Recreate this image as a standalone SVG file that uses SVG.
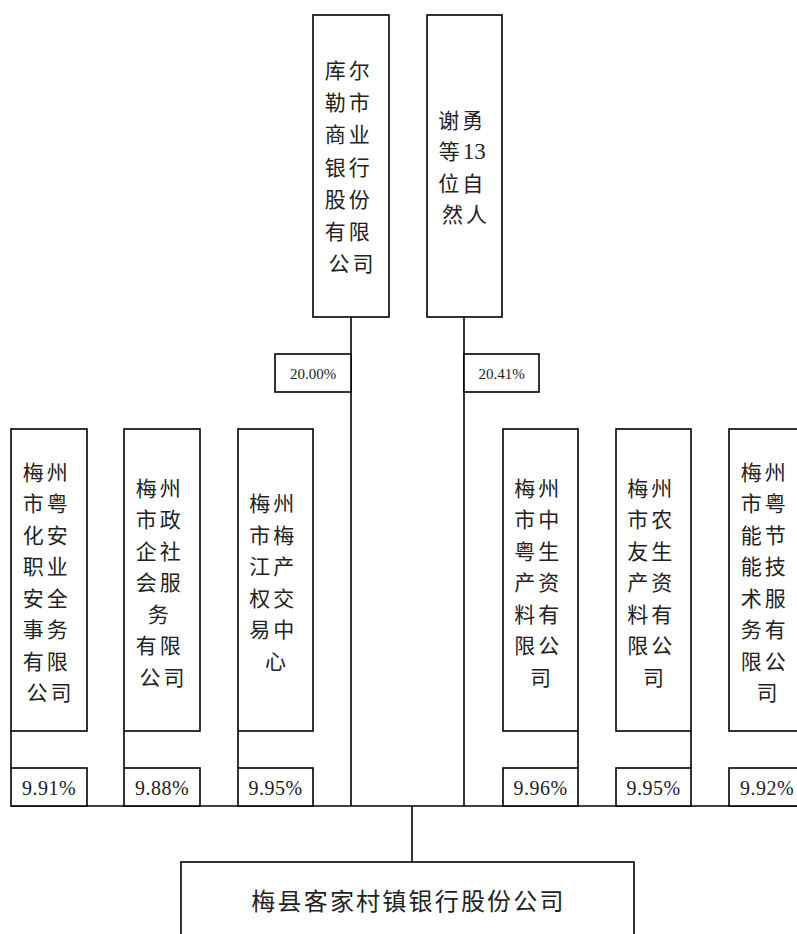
<svg xmlns="http://www.w3.org/2000/svg" width="797" height="934" viewBox="0 0 797 934">
  <style>
    .box { fill: #ffffff; stroke: #000000; stroke-width: 1.6; }
    .ln { fill: none; stroke: #000000; stroke-width: 1.6; }
    .cjk { font-family: "Noto Sans CJK SC", "Noto Sans", sans-serif; font-size: 21px; letter-spacing: 3px; fill: #222222; text-anchor: middle; }
    .pct { font-family: "Liberation Serif", serif; font-size: 20px; fill: #222222; text-anchor: middle; letter-spacing: 0.5px; }
    .pct-s { font-family: "Liberation Serif", serif; font-size: 15px; fill: #222222; text-anchor: middle; }
    .num { font-family: "Liberation Serif", serif; font-size: 23px; letter-spacing: 0; }
  </style>

  <rect width="797" height="934" fill="#ffffff"/>

  <!-- connectors -->
  <g id="connectors">
    <line class="ln" x1="351" y1="317" x2="351" y2="806"/>
    <line class="ln" x1="464" y1="317" x2="464" y2="806"/>
    <line class="ln" x1="11" y1="731" x2="11" y2="768"/>
    <line class="ln" x1="124" y1="731" x2="124" y2="768"/>
    <line class="ln" x1="238" y1="731" x2="238" y2="768"/>
    <line class="ln" x1="578" y1="731" x2="578" y2="768"/>
    <line class="ln" x1="691" y1="731" x2="691" y2="768"/>
    <line class="ln" x1="804" y1="731" x2="804" y2="768"/>
    <line class="ln" x1="11" y1="806" x2="797" y2="806"/>
    <line class="ln" x1="412" y1="806" x2="412" y2="862"/>
  </g>

  <!-- share labels -->
  <g id="labels">
    <rect class="box" x="275" y="354" width="76" height="38"/>
    <text class="pct-s" x="313" y="379">20.00%</text>
    <rect class="box" x="464" y="354" width="75" height="38"/>
    <text class="pct-s" x="501.5" y="379">20.41%</text>

    <rect class="box" x="11" y="768" width="76" height="38"/>
    <text class="pct" x="49" y="795">9.91%</text>
    <rect class="box" x="124" y="768" width="76" height="38"/>
    <text class="pct" x="162" y="795">9.88%</text>
    <rect class="box" x="238" y="768" width="75" height="38"/>
    <text class="pct" x="275.5" y="795">9.95%</text>
    <rect class="box" x="503" y="768" width="75" height="38"/>
    <text class="pct" x="540.5" y="795">9.96%</text>
    <rect class="box" x="616" y="768" width="75" height="38"/>
    <text class="pct" x="653.5" y="795">9.95%</text>
    <rect class="box" x="729" y="768" width="76" height="38"/>
    <text class="pct" x="767" y="795">9.92%</text>
  </g>

  <!-- shareholders, top -->
  <g id="kuerle-bank">
    <rect class="box" x="313" y="15" width="76" height="302"/>
    <text class="cjk">
      <tspan x="352.5" y="78">库尔</tspan>
      <tspan x="352.5" y="110">勒市</tspan>
      <tspan x="352.5" y="142">商业</tspan>
      <tspan x="352.5" y="174.5">银行</tspan>
      <tspan x="352.5" y="206.5">股份</tspan>
      <tspan x="352.5" y="238.5">有限</tspan>
      <tspan x="352.5" y="270.5">公司</tspan>
    </text>
  </g>

  <g id="xie-yong">
    <rect class="box" x="427" y="15" width="75" height="302"/>
    <text class="cjk">
      <tspan x="466" y="127.5">谢勇</tspan>
      <tspan x="466" y="159">等<tspan class="num">13</tspan></tspan>
      <tspan x="466" y="190.5">位自</tspan>
      <tspan x="466" y="222">然人</tspan>
    </text>
  </g>

  <!-- shareholders, bottom left -->
  <g id="yuehua">
    <rect class="box" x="11" y="429" width="76" height="302"/>
    <text class="cjk">
      <tspan x="50.5" y="479.75">梅州</tspan>
      <tspan x="50.5" y="511.25">市粤</tspan>
      <tspan x="50.5" y="542.75">化安</tspan>
      <tspan x="50.5" y="574.25">职业</tspan>
      <tspan x="50.5" y="605.75">安全</tspan>
      <tspan x="50.5" y="637.25">事务</tspan>
      <tspan x="50.5" y="668.75">有限</tspan>
      <tspan x="50.5" y="700.25">公司</tspan>
    </text>
  </g>

  <g id="zhengqi">
    <rect class="box" x="124" y="429" width="76" height="302"/>
    <text class="cjk">
      <tspan x="163.5" y="495.5">梅州</tspan>
      <tspan x="163.5" y="527">市政</tspan>
      <tspan x="163.5" y="558.5">企社</tspan>
      <tspan x="163.5" y="590">会服</tspan>
      <tspan x="163.5" y="621.5">务</tspan>
      <tspan x="163.5" y="653">有限</tspan>
      <tspan x="163.5" y="684.5">公司</tspan>
    </text>
  </g>

  <g id="meijiang">
    <rect class="box" x="238" y="429" width="75" height="302"/>
    <text class="cjk">
      <tspan x="277" y="511.25">梅州</tspan>
      <tspan x="277" y="542.75">市梅</tspan>
      <tspan x="277" y="574.25">江产</tspan>
      <tspan x="277" y="605.75">权交</tspan>
      <tspan x="277" y="637.25">易中</tspan>
      <tspan x="277" y="668.75">心</tspan>
    </text>
  </g>

  <!-- shareholders, bottom right -->
  <g id="zhongyue">
    <rect class="box" x="503" y="429" width="75" height="302"/>
    <text class="cjk">
      <tspan x="542" y="495.5">梅州</tspan>
      <tspan x="542" y="527">市中</tspan>
      <tspan x="542" y="558.5">粤生</tspan>
      <tspan x="542" y="590">产资</tspan>
      <tspan x="542" y="621.5">料有</tspan>
      <tspan x="542" y="653">限公</tspan>
      <tspan x="542" y="684.5">司</tspan>
    </text>
  </g>

  <g id="nongyou">
    <rect class="box" x="616" y="429" width="75" height="302"/>
    <text class="cjk">
      <tspan x="655" y="495.5">梅州</tspan>
      <tspan x="655" y="527">市农</tspan>
      <tspan x="655" y="558.5">友生</tspan>
      <tspan x="655" y="590">产资</tspan>
      <tspan x="655" y="621.5">料有</tspan>
      <tspan x="655" y="653">限公</tspan>
      <tspan x="655" y="684.5">司</tspan>
    </text>
  </g>

  <g id="yueneng">
    <rect class="box" x="729" y="429" width="76" height="302"/>
    <text class="cjk">
      <tspan x="768.5" y="479.75">梅州</tspan>
      <tspan x="768.5" y="511.25">市粤</tspan>
      <tspan x="768.5" y="542.75">能节</tspan>
      <tspan x="768.5" y="574.25">能技</tspan>
      <tspan x="768.5" y="605.75">术服</tspan>
      <tspan x="768.5" y="637.25">务有</tspan>
      <tspan x="768.5" y="668.75">限公</tspan>
      <tspan x="768.5" y="700.25">司</tspan>
    </text>
  </g>

  <!-- the bank -->
  <g id="hakka-bank">
    <rect class="box" x="181" y="862" width="453" height="90"/>
    <text class="cjk" x="408.5" y="910" style="font-size:24px; letter-spacing:2.2px">梅县客家村镇银行股份公司</text>
  </g>
</svg>
